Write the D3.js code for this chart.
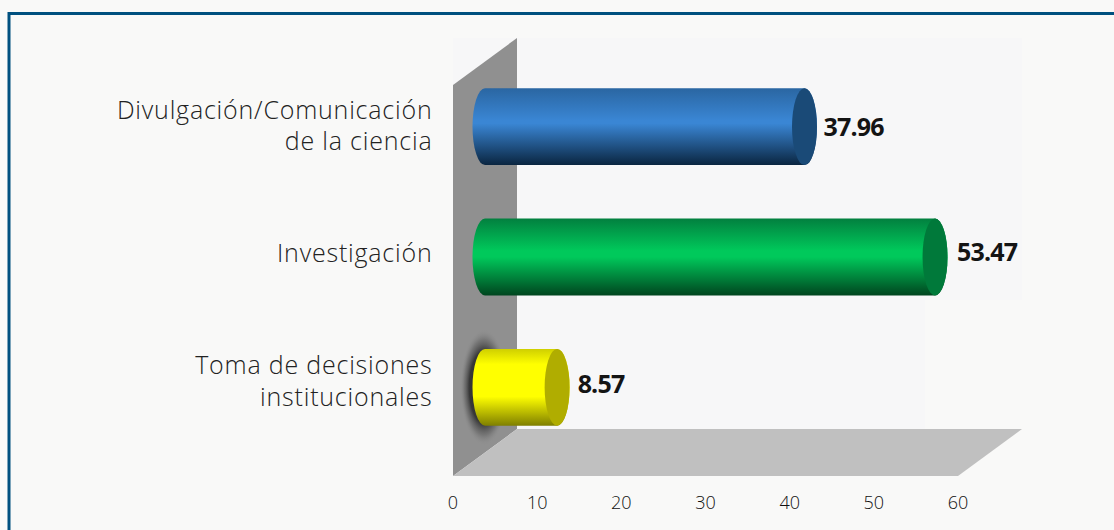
<!DOCTYPE html>
<html><head><meta charset="utf-8">
<script src="https://cdn.jsdelivr.net/npm/d3@7"></script>
<style>
html,body{margin:0;padding:0;background:#f9f9f8;overflow:hidden}
svg{display:block}
text{font-family:"Open Sans","Noto Sans",sans-serif}
</style></head><body>
<div id="chart"></div>
<script>
const categories = ["Divulgación/Comunicación|de la ciencia", "Investigación", "Toma de decisiones|institucionales"];
const values = [37.96, 53.47, 8.57];
const valueLabels = ["37.96", "53.47", "8.57"];
const tickValues = [0, 10, 20, 30, 40, 50, 60];
const gradientColors = [
  ["#2a66a2", "#3a86d4", "#0a2540"],
  ["#02803f", "#00c95b", "#00451f"],
  ["#cfcf00", "#ffff00", "#7f7f00"]
];
const gradientStops = [[0.42, 0.46], [0.42, 0.5], [0.2, 0.62]];
const capColors = ["#1a4a77", "#00793a", "#b0ad00"];

const W = 1114, H = 530;
const dx = 64, dy = 47;
const x = d3.scaleLinear().domain([0, 60]).range([453, 958]);
const y = d3.scaleBand().domain(categories).range([85 - dy / 2, 476 - dy / 2]).paddingInner(0.41).paddingOuter(0.205);
const labelY = d3.scalePoint().domain(categories).range([126, 381.5]);
const svg = d3.select("#chart").append("svg").attr("width", W).attr("height", H);
const defs = svg.append("defs");

gradientColors.forEach((c, i) => {
  const g = defs.append("linearGradient").attr("id", "bar" + i).attr("x1", 0).attr("x2", 0).attr("y1", 0).attr("y2", 1);
  [[0, c[0]], [gradientStops[i][0], c[1]], [gradientStops[i][1], c[1]], [1, c[2]]].forEach(s => g.append("stop").attr("offset", s[0]).attr("stop-color", s[1]));
});
const sh = defs.append("radialGradient").attr("id", "shadow");
[[0, "#222", 1], [0.62, "#2e2e2e", 0.9], [0.82, "#555", 0.45], [1, "#909090", 0]].forEach(s =>
  sh.append("stop").attr("offset", s[0]).attr("stop-color", s[1]).attr("stop-opacity", s[2]));
defs.append("clipPath").attr("id", "wallClip").append("path")
  .attr("d", `M${x(0)},85L${x(0) + dx},${85 - dy}V429L${x(0)},476Z`);

// page frame
svg.append("rect").attr("x", 9).attr("y", 13.5).attr("width", W).attr("height", H).attr("fill", "#f9f9f8")
  .attr("stroke", "#00507f").attr("stroke-width", 3);

// back plane
svg.append("rect").attr("x", x(0)).attr("y", 38).attr("width", 569).attr("height", 262).attr("fill", "#f7f7f8");
svg.append("rect").attr("x", x(0)).attr("y", 300).attr("width", 472).attr("height", 176).attr("fill", "#f7f7f8");

// wall and floor
svg.append("path").attr("d", `M${x(0)},85L${x(0) + dx},${85 - dy}V429L${x(0)},476Z`).attr("fill", "#909090");
svg.append("path").attr("d", `M${x(0)},476L${x(0) + dx},429H${x(60) + dx}L${x(60)},476Z`).attr("fill", "#c0c0c0");

// shadow of the short bar
svg.append("g").attr("clip-path", "url(#wallClip)").append("ellipse")
  .attr("cx", x(0) + dx / 2 - 1).attr("cy", y(categories[2]) + y.bandwidth() / 2)
  .attr("rx", 24).attr("ry", 58).attr("fill", "url(#shadow)");

// cylinders
const rx = 12.5;
const ox = x(0) + dx / 2;
const bars = svg.append("g").selectAll("g").data(values).join("g");
const x1 = d => ox + x(d) - x(0);
bars.append("path")
  .attr("d", (d, i) => {
    const t = y(categories[i]), h = y.bandwidth(), ry = h / 2;
    return `M${ox},${t}H${x1(d)}A${rx},${ry} 0 0 1 ${x1(d)},${t + h}H${ox}A${rx},${ry} 0 0 1 ${ox},${t}Z`;
  })
  .attr("fill", (d, i) => `url(#bar${i})`);
bars.append("ellipse")
  .attr("cx", d => x1(d)).attr("cy", (d, i) => y(categories[i]) + y.bandwidth() / 2)
  .attr("rx", rx).attr("ry", y.bandwidth() / 2)
  .attr("fill", (d, i) => capColors[i]);

// value labels
const labelGap = [6.5, 9.5, 8];
const labelShift = [0, -5, -3];
bars.append("text")
  .attr("x", (d, i) => x1(d) + rx + labelGap[i])
  .attr("y", (d, i) => y(categories[i]) + y.bandwidth() / 2 + 9 + labelShift[i])
  .attr("font-size", 25).attr("font-weight", 700).attr("letter-spacing", "-0.8px").attr("fill", "#141414")
  .text((d, i) => valueLabels[i]);

// category labels
svg.append("g").selectAll("text").data(categories).join("text")
  .attr("text-anchor", "end").attr("font-size", 25).attr("font-weight", 300).attr("letter-spacing", "0.8px").attr("fill", "#222")
  .each(function (c) {
    const lines = c.split("|");
    const mid = labelY(c);
    d3.select(this).selectAll("tspan").data(lines).join("tspan")
      .attr("x", 432.5)
      .attr("y", (l, i) => mid + 8.5 + (i - (lines.length - 1) / 2) * 31.5)
      .text(l => l);
  });

// axis
const axis = svg.append("g").attr("transform", "translate(0,476)")
  .call(d3.axisBottom(x).tickValues(tickValues).tickSize(0).tickPadding(20));
axis.select(".domain").remove();
axis.selectAll("text").attr("font-size", 18).attr("font-weight", 300).attr("fill", "#111")
  .attr("dx", "-0.5")
  .style("font-family", '"Open Sans"');
</script>
</body></html>
